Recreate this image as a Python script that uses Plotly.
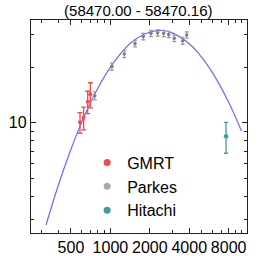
import plotly.graph_objects as go

# GMRT
gmrt_freq = [586, 625, 671, 703]
gmrt_flux = [10.05, 10.64, 12.99, 14.24]
gmrt_err = [1.3, 1.5, 1.8, 2.2]

# Parkes
parkes_freq = [760, 1028, 1277, 1542, 1783, 2042, 2296, 2552, 2786, 3075, 3565, 3825]
parkes_flux = [14.0, 20.1, 23.5, 26.8, 29.2, 30.4, 30.6, 30.4, 30.0, 28.6, 27.7, 29.8]
parkes_err = [0.7, 0.9, 1.0, 1.1, 1.2, 1.2, 1.2, 1.2, 1.2, 1.2, 1.2, 1.2]

# Hitachi
hitachi_freq = [7640]
hitachi_flux = [8.44]
hitachi_err = [1.6]

# Fitted curve
fit_freq = [323, 400, 500, 600, 700, 800, 1000, 1250, 1500, 2000, 2500, 3000, 4000, 5000, 6000, 8000, 10000]
fit_flux = [2.81, 4.58, 7.19, 9.95, 12.7, 15.3, 19.95, 24.5, 27.7, 30.9, 31.5, 30.5, 26.7, 22.5, 18.7, 12.9, 9.04]

x_tickvals = [500, 1000, 2000, 4000, 8000]
x_ticktext = ["500", "1000", "2000", "4000", "8000"]
x_minor = [300, 400, 600, 700, 800, 900, 3000, 5000, 6000, 7000, 9000, 10000]
y_tickvals = [10]
y_ticktext = ["10"]
y_minor = [3, 4, 5, 6, 7, 8, 9, 20, 30]

title_text = "(58470.00 - 58470.16)"

RED = "#F24B4B"
GRAY = "#9A9A9A"
TEAL = "#3F9E9C"
BLUE = "#6A6AF5"
FONT = "Liberation Sans, Arial, sans-serif"

fig = go.Figure()

fig.add_trace(go.Scatter(x=fit_freq, y=fit_flux, mode="lines", line=dict(color=BLUE, width=1.2, shape="spline"),
                         showlegend=False, hoverinfo="skip"))

fig.add_trace(go.Scatter(x=gmrt_freq, y=gmrt_flux, mode="markers", name="GMRT",
                         marker=dict(color=RED, size=4),
                         error_y=dict(type="data", array=gmrt_err, color=RED, thickness=1.3, width=2.5),
                         showlegend=False))
fig.add_trace(go.Scatter(x=parkes_freq, y=parkes_flux, mode="markers", name="Parkes",
                         marker=dict(color="#808080", size=3.5),
                         error_y=dict(type="data", array=parkes_err, color=GRAY, thickness=1.2, width=2),
                         showlegend=False))
fig.add_trace(go.Scatter(x=hitachi_freq, y=hitachi_flux, mode="markers", name="Hitachi",
                         marker=dict(color=TEAL, size=4.5),
                         error_y=dict(type="data", array=hitachi_err, color=TEAL, thickness=1.3, width=2),
                         showlegend=False))

# legend entries
for nm, col in [("GMRT", RED), ("Parkes", "#AAAAAA"), ("Hitachi", TEAL)]:
    fig.add_trace(go.Scatter(x=[None], y=[None], mode="markers", name=nm,
                             marker=dict(color=col, size=7), showlegend=True))

axis_common = dict(
    type="log", showgrid=False, zeroline=False, showline=True, linecolor="#222222", linewidth=1.3,
    mirror="ticks", ticks="inside", ticklen=5, tickwidth=1, tickcolor="#222222", automargin=False,
    tickfont=dict(family=FONT, size=16, color="black"),
)

fig.update_xaxes(**axis_common, range=[2.394, 4.043], tickvals=x_tickvals, ticktext=x_ticktext,
                 minor=dict(tickvals=x_minor, ticks="inside", ticklen=3, tickcolor="#222222", tickwidth=1))
fig.update_yaxes(**axis_common, range=[0.404, 1.555], tickvals=y_tickvals, ticktext=y_ticktext,
                 minor=dict(tickvals=y_minor, ticks="inside", ticklen=3, tickcolor="#222222", tickwidth=1))

fig.update_layout(
    width=266, height=256,
    margin=dict(l=31, r=19, t=20, b=23),
    paper_bgcolor="white", plot_bgcolor="white",
    title=dict(text=title_text, x=0.52, xanchor="center", y=1 - 10.7 / 256, yanchor="middle",
               yref="container", font=dict(family=FONT, size=15, color="black"), automargin=False),
    legend=dict(x=0.26, y=0.41, xanchor="left", yanchor="top", bgcolor="rgba(0,0,0,0)",
                font=dict(family=FONT, size=16, color="black"), itemsizing="trace"),
    showlegend=True,
)

fig.write_html("out.html", config={"displayModeBar": False},
               post_script="document.body.style.margin='0px';")
